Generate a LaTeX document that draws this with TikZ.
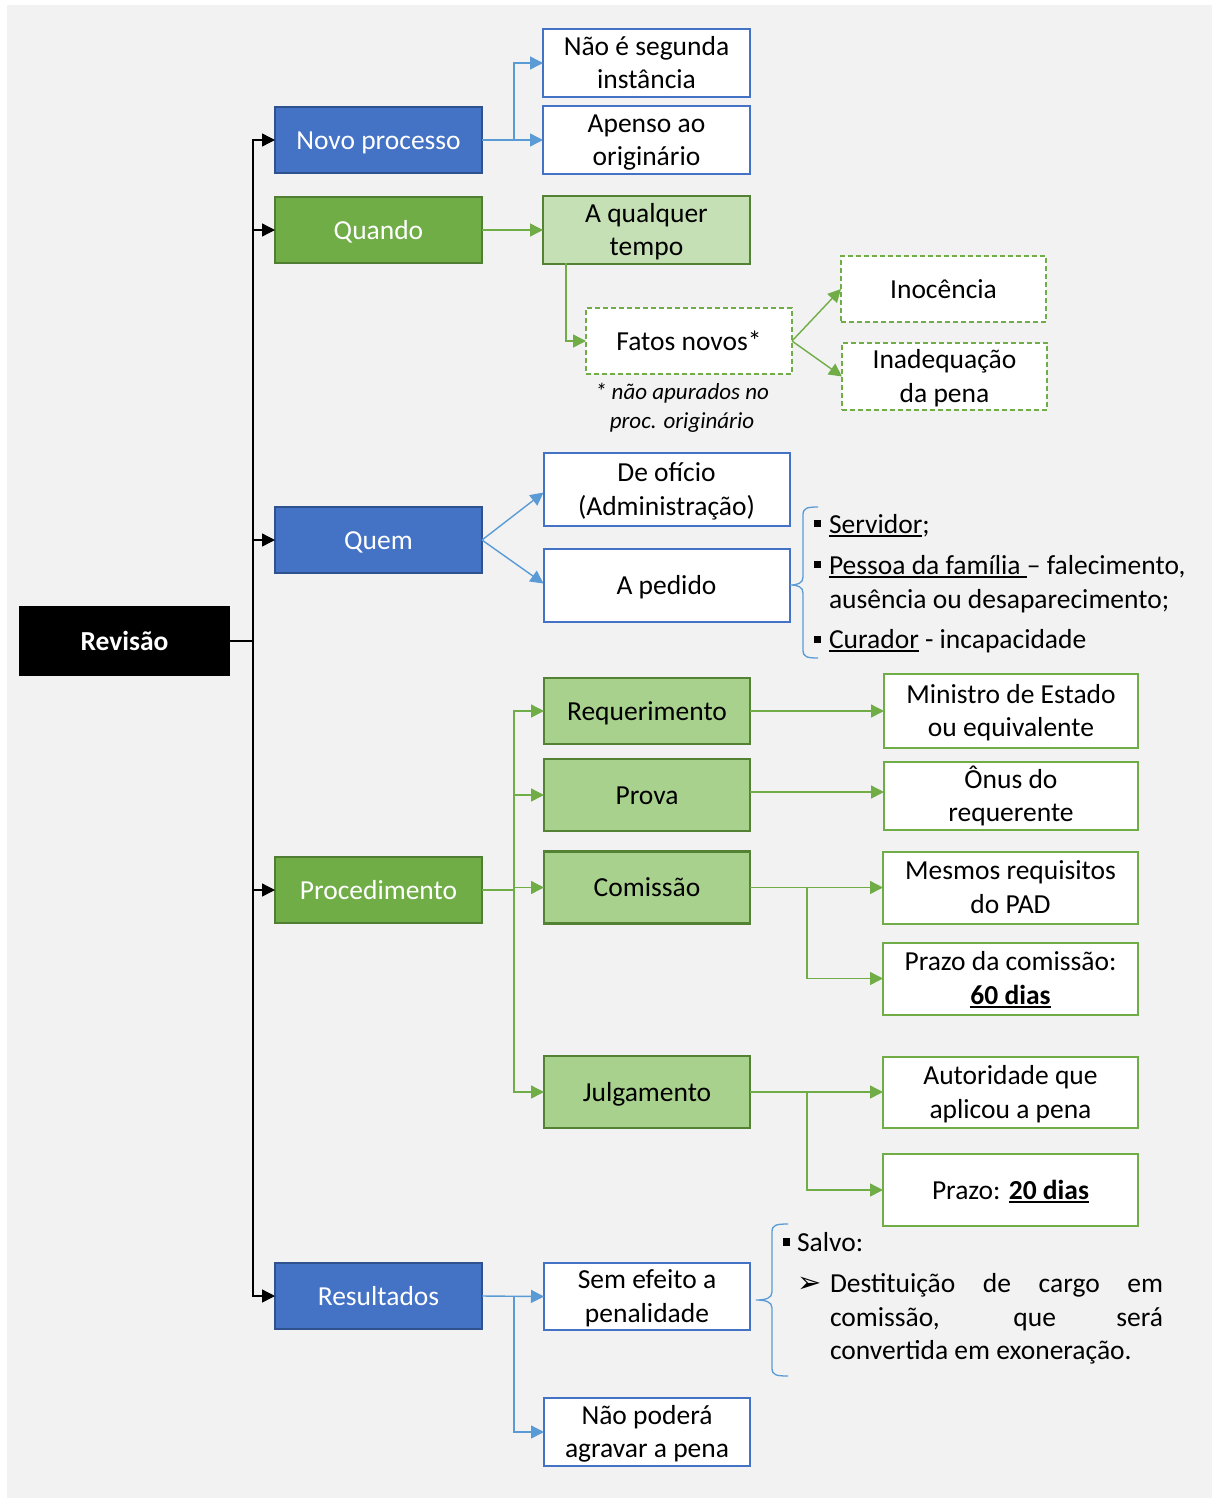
\documentclass[tikz,border=0pt]{standalone}
\usepackage{fontspec}
\setmainfont{Carlito}
\newfontfamily\dejavu{DejaVu Sans}
\newcommand\myul[1]{\setbox0\hbox{#1}\rlap{\rule[-3.5pt]{\wd0}{1.4pt}}\box0\relax}
\newcommand\tightlines{\lineskiplimit=-100pt\relax\lineskip=0pt\relax}
\usetikzlibrary{arrows.meta,calc}
\definecolor{bgc}{HTML}{F2F2F2}
\definecolor{bfill}{HTML}{4472C4}
\definecolor{bdark}{HTML}{2F528F}
\definecolor{bline}{HTML}{5B9BD5}
\definecolor{gfill}{HTML}{70AD47}
\definecolor{gdark}{HTML}{507E32}
\definecolor{gmid}{HTML}{A9D18E}
\definecolor{glight}{HTML}{C5E0B4}
\definecolor{gbord}{HTML}{548235}
\begin{document}
\tightlines
\begin{tikzpicture}[x=1pt,y=-1pt,
  every node/.style={inner sep=0pt,outer sep=0pt,align=center,
    font=\fontsize{27.5}{33.5}\selectfont},
  box/.style={draw,line width=2pt,minimum width=207pt,minimum height=66pt,
    execute at begin node={\tightlines\rule{0pt}{26pt}},
    execute at end node={\rule[-8pt]{0pt}{8pt}}},
  twol/.style={text width=#1,align=flush center},
  twol/.default=196pt,
  bluebox/.style={box,fill=bfill,draw=bdark,text=white},
  greenbox/.style={box,fill=gfill,draw=gdark,text=white},
  wbbox/.style={box,fill=white,draw=bfill},
  wgbox/.style={box,fill=white,draw=gfill},
  midbox/.style={box,fill=gmid,draw=gbord,line width=2.3pt},
  dashbox/.style={box,fill=white,draw=gfill,dashed,dash pattern=on 5pt off 3pt},
  tip/.style={-{Triangle[length=13pt,width=13pt]}},
  blk/.style={draw=black,line width=1.4pt},
  blkarrow/.style={blk,tip},
  bconn/.style={draw=bline,line width=1.4pt},
  barrow/.style={bconn,tip},
  gconn/.style={draw=gfill,line width=1.4pt},
  garrow/.style={gconn,tip},
  bracestyle/.style={draw=bline,line width=1.3pt},
  note/.style={font=\fontsize{23}{29}\selectfont\itshape},
  listtext/.style={anchor=base west,align=left}
]
\useasboundingbox (0,0) rectangle (1212,1499);
\fill[white] (0,0) rectangle (1212,1499);
\fill[bgc] (7,5) rectangle (1212,1498);

% root
\node[box,fill=black,draw=black,text=white,minimum width=209pt,minimum height=68pt,font=\fontsize{27.5}{33.5}\selectfont\bfseries] (rev) at (124.5,641) {Revisão};

% level 1
\node[bluebox] (np) at (378.5,140) {Novo processo};
\node[greenbox] (qd) at (378.5,230) {Quando};
\node[bluebox] (qm) at (378.5,540) {Quem};
\node[greenbox] (pr) at (378.5,890) {Procedimento};
\node[bluebox] (rs) at (378.5,1296) {Resultados};

% novo processo
\node[wbbox,twol] (ns) at (646.5,63) {Não é segunda\\instância};
\node[wbbox,twol] (ap) at (646.5,140) {Apenso ao\\originário};

% quando
\node[box,twol,fill=glight,draw=gbord] (aq) at (646.5,230) {A qualquer\\tempo};
\node[dashbox,minimum width=206pt] (fn) at (689,341) {Fatos novos*};
\node[note] (nt) at (682,408) {* não apurados no\\proc. originário};
\node[dashbox,minimum width=205pt] (ino) at (943.5,289) {Inocência};
\node[dashbox,twol,minimum width=205pt,minimum height=67pt] (ina) at (944.5,376.5) {Inadequação\\da pena};

% quem
\node[wbbox,twol=236pt,minimum width=246pt,minimum height=73pt] (dof) at (666.5,489.5) {De ofício\\(Administração)};
\node[wbbox,minimum width=246pt,minimum height=73pt] (ped) at (666.5,585.5) {A pedido};

% procedimento
\node[midbox,minimum width=206pt] (req) at (647,711) {Requerimento};
\node[midbox,minimum width=206pt,minimum height=72pt] (prv) at (647,795) {Prova};
\node[midbox,minimum width=206pt,minimum height=72pt] (com) at (647,887.5) {Comissão};
\node[midbox,minimum width=206pt,minimum height=72pt] (jul) at (647,1092) {Julgamento};

\node[wgbox,twol=244pt,minimum width=254pt,minimum height=74pt] (min) at (1011,711) {Ministro de Estado\\ou equivalente};
\node[wgbox,twol=244pt,minimum width=254pt,minimum height=65pt] (onu) at (1011,796) {Ônus do\\requerente};
\node[wgbox,twol=244pt,minimum width=255pt,minimum height=72pt] (mes) at (1010.5,887.5) {Mesmos requisitos\\do PAD};
\node[wgbox,twol=244pt,minimum width=255pt,minimum height=72pt] (p60) at (1010.5,978.5) {Prazo da comissão:\\\textbf{\myul{60 dias}}};
\node[wgbox,twol=244pt,minimum width=255pt,minimum height=71pt] (aut) at (1010.5,1092.5) {Autoridade que\\aplicou a pena};
\node[wgbox,minimum width=255pt,minimum height=72pt] (p20) at (1010.5,1190) {Prazo: \textbf{\myul{20 dias}}};

% resultados
\node[wbbox,twol,minimum width=206pt,minimum height=67pt] (sem) at (647,1296.5) {Sem efeito a\\penalidade};
\node[wbbox,twol,minimum width=206pt,minimum height=66pt] (nao) at (647,1432) {Não poderá\\agravar a pena};

% trunk connectors
\coordinate (tr) at (253,641);
\draw[blk] (rev.east) -- (tr);
\draw[blkarrow] (tr) |- (np.west);
\draw[blkarrow] (tr) |- (qd.west);
\draw[blkarrow] (tr) |- (qm.west);
\draw[blkarrow] (tr) |- (pr.west);
\draw[blkarrow] (tr) |- (rs.west);

% novo processo connectors
\coordinate (npj) at (514,140);
\draw[barrow] (np.east) -- (ap.west);
\draw[barrow] (npj) |- (ns.west);

% quando connectors
\coordinate (aqb) at (566,263);
\draw[garrow] (qd.east) -- (aq.west);
\draw[garrow] (aqb) |- (fn.west);
\draw[garrow] (fn.east) -- (ino.west);
\draw[garrow] (fn.east) -- (ina.west);

% quem connectors
\draw[barrow] (qm.east) -- ([yshift=-3pt]dof.west);
\draw[barrow] (qm.east) -- ([yshift=2pt]ped.west);

% procedimento connectors
\coordinate (pj) at (514,890);
\draw[gconn] (pr.east) -- (pj);
\draw[garrow] (pj) |- (req.west);
\draw[garrow] (pj) |- (prv.west);
\draw[garrow] (pj) |- (com.west);
\draw[garrow] (pj) |- (jul.west);
\draw[garrow] (req.east) -- (req.east -| min.west);
\draw[garrow] ([yshift=3pt]prv.east) -- ([yshift=3pt]prv.east -| onu.west);
\draw[garrow] (com.east) -- (mes.west);
\coordinate (cj) at (807,887.5);
\draw[garrow] (cj) |- (p60.west);
\draw[garrow] (jul.east) -- (jul.east -| aut.west);
\coordinate (jj) at (807,1092);
\draw[garrow] (jj) |- (p20.west);

% resultados connectors
\coordinate (rj) at (514,1296.5);
\draw[barrow] (rs.east) -- (sem.west);
\draw[barrow] (rj) |- (nao.west);

% brace for A pedido
\draw[bracestyle] (818,507) .. controls (807,507) and (803,508) .. (803,515) -- (803,577)
  .. controls (803,583) and (798,585) .. (790,585)
  .. controls (798,585) and (803,587) .. (803,593) -- (803,650)
  .. controls (803,657) and (807,658) .. (818,658);
\fill (814,519.5) rectangle (821,527);
\fill (814,561) rectangle (821,568);
\fill (814,636) rectangle (821,643);
\node[listtext] (l1) at (829,533) {\myul{Servidor};};
\node[listtext] (l2) at (829,574) {\myul{Pessoa da família }– falecimento,};
\node[listtext] (l3) at (829,608) {ausência ou desaparecimento;};
\node[listtext] (l4) at (829,648) {\myul{Curador} - incapacidade};

% brace for Sem efeito
\draw[bracestyle] (788,1224) .. controls (776,1224) and (772,1225) .. (772,1232) -- (772,1292)
  .. controls (772,1298) and (766,1300) .. (756,1300)
  .. controls (766,1300) and (772,1302) .. (772,1308) -- (772,1368)
  .. controls (772,1375) and (776,1376) .. (788,1376);
\fill (783,1238) rectangle (790,1245.5);
\node[listtext] (s1) at (797,1251) {Salvo:};
\node[anchor=base west] (s2) at (797,1292) {\dejavu\fontsize{29}{30}\selectfont ➢};
\node[listtext] (s3) at (830,1292) {\makebox[333pt][s]{Destituição de cargo em}};
\node[listtext] (s4) at (830,1326) {\makebox[333pt][s]{comissão, que será}};
\node[listtext] (s5) at (830,1359) {convertida em exoneração.};
\end{tikzpicture}
\end{document}
